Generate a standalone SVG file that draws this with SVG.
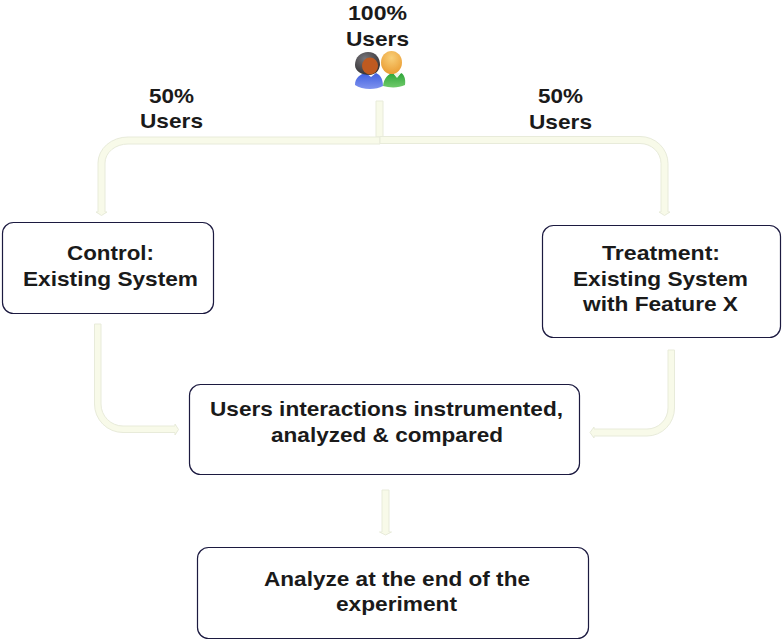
<svg xmlns="http://www.w3.org/2000/svg" width="782" height="640" viewBox="0 0 782 640">
<defs>
<linearGradient id="blue" x1="0" y1="0" x2="0" y2="1"><stop offset="0" stop-color="#3f5fe0"/><stop offset="1" stop-color="#7f93ee"/></linearGradient>
<linearGradient id="green" x1="0" y1="0" x2="0" y2="1"><stop offset="0" stop-color="#2fa53a"/><stop offset="1" stop-color="#6fca6a"/></linearGradient>
<radialGradient id="dark" cx=".4" cy=".3" r=".8"><stop offset="0" stop-color="#77757a"/><stop offset="1" stop-color="#2c2a2c"/></radialGradient>
<radialGradient id="gold" cx=".5" cy=".3" r=".8"><stop offset="0" stop-color="#f8cf78"/><stop offset="1" stop-color="#e9962a"/></radialGradient>
</defs>
<style>
.b{fill:#fff;stroke:#1c1a40;stroke-width:1.2}
.a{fill:#f8fae9;stroke:#e8ebda;stroke-width:1}
text{font-family:"Liberation Sans",Arial,sans-serif;font-weight:700;font-size:21px;fill:#1a1a1a;text-anchor:middle}
</style>
<rect width="782" height="640" fill="#fff"/>
<g id="connectors">
<path class="a" d="M376 101H383V137H376Z"/>
<path class="a" d="M380 137H128A30 26 0 0 0 98 163V212H96L101.500 215.500L107 212H105V163A23 19 0 0 1 128 144H380Z"/>
<path class="a" d="M380 136.500H640A28 27 0 0 1 668 163.500V212H670L664.500 215.500L659 212H661V163.500A21 20 0 0 0 640 143.500H380Z"/>
<path class="a" d="M94.500 324H101V404A22 22 0 0 0 123 426H175V424L178.500 429.500L175 435V432.500H123A28.500 28.500 0 0 1 94.500 404Z"/>
<path class="a" d="M668 350H674.500V408A27.500 28 0 0 1 647 436H594V438L590 432.500L594 427V429H647A21 21 0 0 0 668 408Z"/>
<path class="a" d="M382 490H389V532H391.500L385.500 535L379.500 532H382Z"/>
</g>
<g id="users-icon">
<path d="M383 86C384 78 388 74 393 73L397 77L401 73C404 74 406 79 405 85C399 88 390 88 383 86Z" fill="url(#green)"/>
<path d="M393 73L397 78L401 73Z" fill="#eef5e8"/>
<ellipse cx="391.500" cy="62.500" rx="10.500" ry="11.500" fill="url(#gold)"/>
<path d="M355 85C355 78 360 74 366 73L371 77L376 73C381 75 383 80 383 86C376 90 362 90 355 85Z" fill="url(#blue)"/>
<path d="M355 65C355 57 361 52 368 52C376 52 380 58 380 65C379 71 376 74 370 75C361 75 355 71 355 65Z" fill="url(#dark)"/>
<ellipse cx="370" cy="66" rx="8" ry="8.500" fill="#bf5a20"/>
</g>
<g id="label-100"><text x="377.500" y="20" textLength="59" lengthAdjust="spacingAndGlyphs">100%</text><text x="377.500" y="46" textLength="63" lengthAdjust="spacingAndGlyphs">Users</text></g>
<g id="label-50-left"><text x="171.500" y="103" textLength="45" lengthAdjust="spacingAndGlyphs">50%</text><text x="171.500" y="128" textLength="63" lengthAdjust="spacingAndGlyphs">Users</text></g>
<g id="label-50-right"><text x="560.500" y="103" textLength="45" lengthAdjust="spacingAndGlyphs">50%</text><text x="560.500" y="129" textLength="63" lengthAdjust="spacingAndGlyphs">Users</text></g>
<g id="control"><rect class="b" x="2.500" y="222.500" width="211" height="91" rx="11"/><text x="110.500" y="260" textLength="87" lengthAdjust="spacingAndGlyphs">Control:</text><text x="110.500" y="286" textLength="175" lengthAdjust="spacingAndGlyphs">Existing System</text></g>
<g id="treatment"><rect class="b" x="542.500" y="225.500" width="238" height="112" rx="11"/><text x="661" y="260" textLength="118" lengthAdjust="spacingAndGlyphs">Treatment:</text><text x="660.500" y="286" textLength="175" lengthAdjust="spacingAndGlyphs">Existing System</text><text x="660.500" y="311" textLength="155" lengthAdjust="spacingAndGlyphs">with Feature X</text></g>
<g id="instrumented"><rect class="b" x="189.500" y="384.500" width="390" height="90" rx="11"/><text x="386.500" y="416" textLength="353" lengthAdjust="spacingAndGlyphs">Users interactions instrumented,</text><text x="387" y="442" textLength="232" lengthAdjust="spacingAndGlyphs">analyzed &amp; compared</text></g>
<g id="analyze"><rect class="b" x="197.500" y="547.500" width="391" height="91" rx="11"/><text x="397" y="586" textLength="266" lengthAdjust="spacingAndGlyphs">Analyze at the end of the</text><text x="396.500" y="611" textLength="121" lengthAdjust="spacingAndGlyphs">experiment</text></g>
</svg>
